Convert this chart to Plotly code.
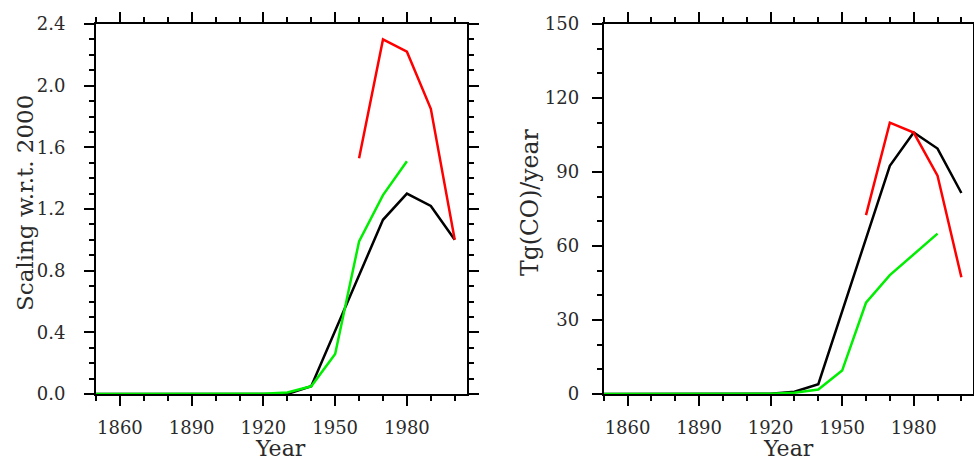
import plotly.graph_objects as go

years = [1850, 1860, 1870, 1880, 1890, 1900, 1910, 1920, 1930, 1940, 1950, 1960, 1970, 1980, 1990, 2000]

# Left panel: scaling w.r.t. 2000
left_black = [0, 0, 0, 0, 0, 0, 0, 0, 0, 0.05, None, None, 1.13, 1.30, 1.22, 1.00]
left_green = [0, 0, 0, 0, 0, 0.001, 0.001, 0.002, 0.01, 0.05, 0.26, 0.99, 1.29, 1.51, None, None]
left_red = [None, None, None, None, None, None, None, None, None, None, None, 1.53, 2.30, 2.22, 1.85, 1.00]

# Right panel: Tg(CO)/year
right_black = [0, 0, 0, 0, 0, 0, 0, 0.1, 0.9, 4.0, None, None, 92.5, 106.0, 99.5, 81.5]
right_green = [0, 0, 0, 0, 0, 0, 0, 0.1, 0.5, 1.8, 9.5, 37.0, 48.2, 56.5, 65.0, None]
right_red = [None, None, None, None, None, None, None, None, None, None, None, 72.5, 110.0, 106.0, 88.5, 47.3]

xticks = [1860, 1890, 1920, 1950, 1980]
left_yticks = [0.0, 0.4, 0.8, 1.2, 1.6, 2.0, 2.4]
left_ylabels = ["0.0", "0.4", "0.8", "1.2", "1.6", "2.0", "2.4"]
right_yticks = [0, 30, 60, 90, 120, 150]

FONT = "DejaVu Serif"
BLACK = "#000000"
GREEN = "#00EE00"
RED = "#FF0000"
TEXT = "#2a2a2a"
LW = 2.5

fig = go.Figure()

def add(x, y, color, xa, ya):
    fig.add_trace(go.Scatter(x=x, y=y, mode="lines", connectgaps=True,
                             line=dict(color=color, width=LW),
                             xaxis=xa, yaxis=ya, showlegend=False, hoverinfo="skip"))

add(years, left_black, BLACK, "x", "y")
add(years, left_green, GREEN, "x", "y")
add(years, left_red, RED, "x", "y")
add(years, right_black, BLACK, "x2", "y2")
add(years, right_green, GREEN, "x2", "y2")
add(years, right_red, RED, "x2", "y2")

common_axis = dict(showline=True, linewidth=2, linecolor="black", mirror="allticks",
                   ticks="outside", ticklen=10, tickwidth=1.5, tickcolor="black",
                   showgrid=False, zeroline=False, automargin=False,
                   tickfont=dict(family=FONT, size=18, color=TEXT))

top, bottom = 1 - 24 / 461, 1 - 394 / 461

fig.update_layout(
    width=974, height=461,
    margin=dict(l=0, r=0, t=0, b=0, autoexpand=False),
    paper_bgcolor="white", plot_bgcolor="white",
    xaxis=dict(domain=[96 / 974, 466.7 / 974], range=[1850, 2005], tickvals=xticks,
               minor=dict(dtick=10, tick0=1850, ticklen=5, tickwidth=1.5, tickcolor="black", ticks="outside"),
               ticklabelstandoff=6, anchor="y", **common_axis),
    yaxis=dict(domain=[bottom, top], range=[0, 2.4], tickvals=left_yticks, ticktext=left_ylabels,
               minor=dict(dtick=0.1, tick0=0, ticklen=5, tickwidth=1.5, tickcolor="black", ticks="outside"),
               ticklabelstandoff=15, anchor="x", **common_axis),
    xaxis2=dict(domain=[603.7 / 974, 973.3 / 974], range=[1850, 2005], tickvals=xticks,
                minor=dict(dtick=10, tick0=1850, ticklen=5, tickwidth=1.5, tickcolor="black", ticks="outside"),
                ticklabelstandoff=6, anchor="y2", **common_axis),
    yaxis2=dict(domain=[bottom, top], range=[0, 150], tickvals=right_yticks,
                minor=dict(dtick=10, tick0=0, ticklen=5, tickwidth=1.5, tickcolor="black", ticks="outside"),
                ticklabelstandoff=9, anchor="x2", **common_axis),
)

fig.add_annotation(text="Scaling w.r.t. 2000", textangle=-90, x=25 / 974, y=1 - 203 / 461,
                   xref="paper", yref="paper", showarrow=False,
                   font=dict(family=FONT, size=23, color=TEXT),
                   xanchor="center", yanchor="middle")
fig.add_annotation(text="Tg(CO)/year", textangle=-90, x=530 / 974, y=1 - 203 / 461,
                   xref="paper", yref="paper", showarrow=False,
                   font=dict(family=FONT, size=23.5, color=TEXT),
                   xanchor="center", yanchor="middle")
year_font = dict(family=FONT, size=22, color=TEXT)
fig.add_annotation(text="Year", x=280 / 974, y=1 - 448 / 461,
                   xref="paper", yref="paper", showarrow=False, font=year_font,
                   xanchor="center", yanchor="middle")
fig.add_annotation(text="Year", x=788 / 974, y=1 - 448 / 461,
                   xref="paper", yref="paper", showarrow=False, font=year_font,
                   xanchor="center", yanchor="middle")

fig.write_html("out.html", config={"displayModeBar": False},
               post_script="document.body.style.margin='0';")
